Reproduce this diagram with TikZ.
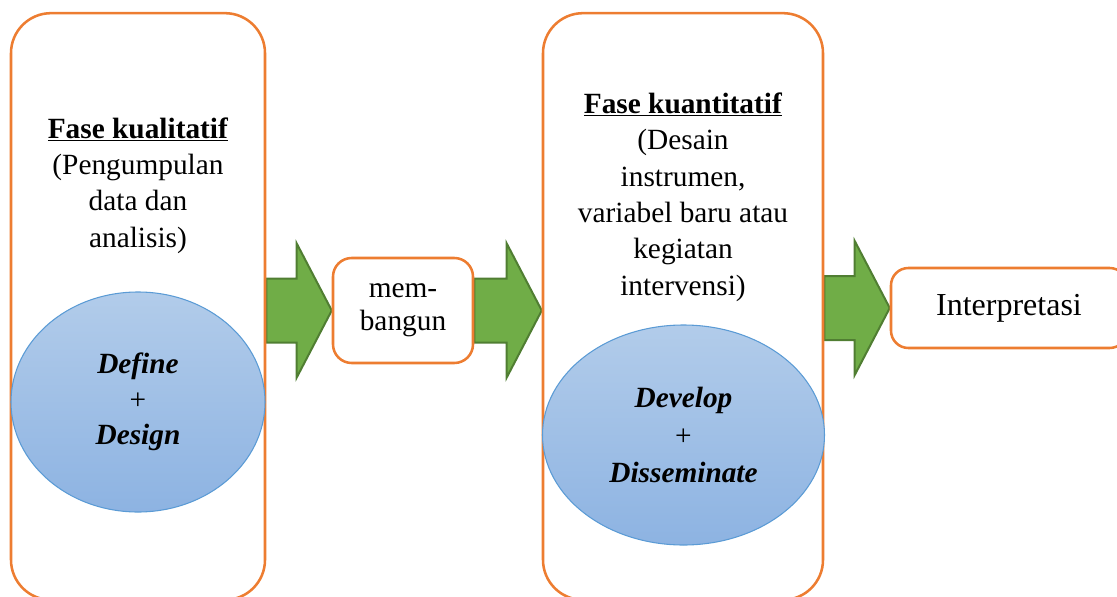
\documentclass[tikz,border=0pt]{standalone}
\usepackage{fontspec}
\setmainfont{Liberation Serif}
\usetikzlibrary{shapes.geometric,calc,backgrounds}
\definecolor{boxorange}{HTML}{ED7D31}
\definecolor{arrfill}{HTML}{70AD47}
\definecolor{arrline}{HTML}{507E32}
\definecolor{elltop}{HTML}{B2CCEA}
\definecolor{ellbot}{HTML}{8DB3E2}
\definecolor{ellline}{HTML}{5B9BD5}
\tikzset{
  phasebox/.style={draw=boxorange, line width=1.9pt, rounded corners=30pt,
    minimum height=440pt, inner sep=0pt},
  smallbox/.style={draw=boxorange, fill=white, line width=1.9pt, rounded corners=14pt,
    inner sep=0pt, align=center},
  txt/.style={align=center, inner sep=0pt, font=\fontsize{22}{27.3}\selectfont},
  phaseell/.style={ellipse, draw=ellline, line width=0.8pt, top color=elltop,
    bottom color=ellbot, inner sep=0pt, align=center, minimum height=165pt},
  blockarr/.style={draw=arrline, fill=arrfill, line width=1.5pt, line join=miter},
}
\newcommand\blkarrow[2]{%
  \draw[blockarr] ($(#1)+(0,-32)$) -- ($(#2)+(-35,-32)$) -- ($(#2)+(-35,-67)$)
    -- (#2) -- ($(#2)+(-35,67)$) -- ($(#2)+(-35,32)$) -- ($(#1)+(0,32)$) -- cycle;}
\begin{document}
\begin{tikzpicture}[x=0.75pt,y=-0.75pt]
\useasboundingbox (0,0) rectangle (1117,596);
\clip (0,0) rectangle (1117,596);
% phase boxes
\node[phasebox, minimum width=190.5pt] (L) at (138,306.5) {};
\node[phasebox, minimum width=210pt] (M) at (683,306.5) {};
% texts
\node[txt] (Lt) at (138,185.5) {\underline{\textbf{Fase kualitatif}}\\(Pengumpulan\\data dan\\analisis)};
\node[txt] (Mt) at (683,197) {\underline{\textbf{Fase kuantitatif}}\\(Desain\\instrumen,\\variabel baru atau\\kegiatan\\intervensi)};
% ellipses
\node[phaseell, minimum width=190.5pt, font=\fontsize{22}{26.6}\selectfont] (E1) at (138,402)
  {\textbf{\textit{Define}}\\+\\\textbf{\textit{Design}}};
\node[phaseell, minimum width=211.5pt, font=\fontsize{22}{28}\selectfont] (E2) at (683.5,435)
  {\textbf{\textit{Develop}}\\+\\\textbf{\textit{Disseminate}}};
% small boxes
\node[smallbox, minimum width=105pt, minimum height=78.75pt, font=\fontsize{22}{25}\selectfont] (mb) at (403,310.5) {mem-\\bangun};
\node[smallbox, rounded corners=13pt, minimum width=177pt, minimum height=60pt, font=\fontsize{24}{28}\selectfont] (I) at (1009,308) {Interpretasi};
% block arrows
\begin{pgfonlayer}{background}
\coordinate (a1s) at (L.east |- mb.west);
\blkarrow{a1s}{mb.west}
\coordinate (a2t) at (M.west |- mb.east);
\blkarrow{mb.east}{a2t}
\coordinate (a3s) at (M.east |- I.west);
\blkarrow{a3s}{I.west}
\end{pgfonlayer}
\end{tikzpicture}
\end{document}
